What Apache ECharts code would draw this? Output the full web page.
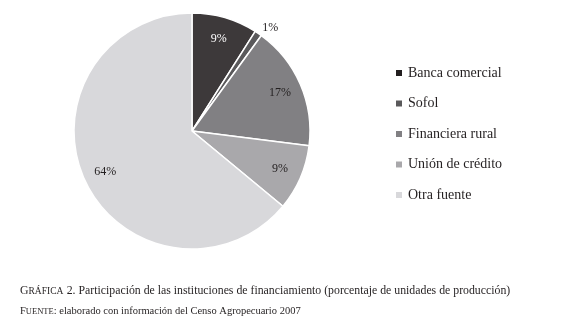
<!DOCTYPE html>
<html>
<head>
<meta charset="utf-8">
<script src="https://cdn.jsdelivr.net/npm/echarts@6/dist/echarts.min.js"></script>
<style>
  html, body { margin: 0; padding: 0; background: #fff; }
  #main { width: 580px; height: 324px; }
</style>
</head>
<body>
<div id="main"></div>
<script>
// datos de la gráfica
const categorias = ["Banca comercial", "Sofol", "Financiera rural", "Unión de crédito", "Otra fuente"]
const valores = [9, 1, 17, 9, 64]
const colores = ["#3d393a", "#5a595b", "#818083", "#a9a8ab", "#d8d8db"]
const coloresLeyenda = ["#221e1f", "#5a595b", "#818083", "#a9a8ab", "#d8d8db"]

const serif = "'Liberation Serif', 'DejaVu Serif', serif"

const chart = echarts.init(document.getElementById("main"))

const datos = categorias.map((nombre, i) => ({
  name: nombre,
  value: valores[i],
  itemStyle: { color: colores[i] }
}))

// etiquetas en una capa transparente (para colocarlas cerca del borde)
const etiquetas = categorias.map((nombre, i) => {
  const item = { name: nombre, value: valores[i] }
  if (nombre === "Sofol") {
    item.label = { position: "outside", distanceToLabelLine: 0, padding: [0, 0, 10, 0] }
    item.labelLine = { show: false, length: 7, length2: 0 }
  }
  return item
})

const option = {
  animation: false,
  legend: {
    orient: "vertical",
    left: 389,
    top: 61,
    itemWidth: 8,
    itemHeight: 8,
    itemGap: 16.5,
    icon: "rect",
    textStyle: { fontFamily: serif, fontSize: 14, color: "#231f20" },
    data: categorias.map((n, i) => ({ name: n, itemStyle: { color: coloresLeyenda[i] } }))
  },
  graphic: [
    {
      type: "text",
      left: 20,
      top: 285,
      style: {
        rich: {
          sc: { fontFamily: serif, fontSize: 9.5, fill: "#231f20" },
          n: { fontFamily: serif, fontSize: 11.8, fill: "#231f20" }
        },
        text: "{n|G}{sc|RÁFICA} {n|2. Participación de las instituciones de financiamiento (porcentaje de unidades de producción)}"
      }
    },
    {
      type: "text",
      left: 20,
      top: 306,
      style: {
        rich: {
          sc: { fontFamily: serif, fontSize: 8.5, fill: "#231f20" },
          n: { fontFamily: serif, fontSize: 10.5, fill: "#231f20" }
        },
        text: "{n|F}{sc|UENTE}{n|: elaborado con información del Censo Agropecuario 2007}"
      }
    }
  ],
  series: [
    {
      type: "pie",
      center: [192, 131],
      radius: [0, 118],
      startAngle: 90,
      clockwise: true,
      label: { show: false },
      labelLine: { show: false },
      itemStyle: { borderColor: "#fff", borderWidth: 1.5 },
      emphasis: { disabled: true },
      data: datos
    },
    {
      type: "pie",
      center: [192, 131],
      radius: [68, 118],
      startAngle: 90,
      clockwise: true,
      silent: true,
      legendHoverLink: false,
      itemStyle: { color: "transparent", borderWidth: 0 },
      label: {
        show: true,
        position: "inside",
        formatter: "{c}%",
        fontFamily: serif,
        fontSize: 12,
        color: "#231f20"
      },
      labelLine: { show: false },
      emphasis: { disabled: true },
      data: etiquetas
    }
  ]
}

// el 9% de banca comercial va en blanco sobre el sector oscuro
option.series[1].data[0].label = { color: "#ffffff" }

chart.setOption(option)
</script>
</body>
</html>
